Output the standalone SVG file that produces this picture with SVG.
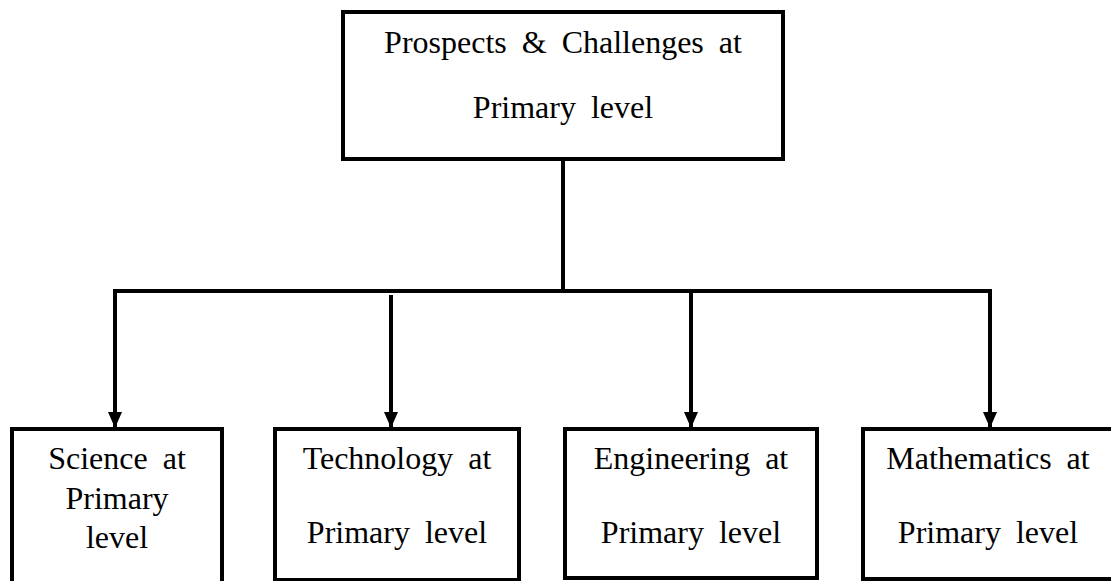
<svg xmlns="http://www.w3.org/2000/svg" width="1111" height="581" viewBox="0 0 1111 581">
<style>
.box{fill:#fff;stroke:#000;stroke-width:4}
.t{font-family:"Liberation Serif","Times New Roman",serif;font-size:32px;fill:#000;text-anchor:middle;word-spacing:7px}
.ln{fill:none;stroke:#000;stroke-width:4}
</style>
<defs>
<marker id="ah" markerUnits="userSpaceOnUse" markerWidth="16" markerHeight="14" refX="16" refY="7" orient="auto">
<path d="M0,0 L16,7 L0,14 Z" fill="#000"/>
</marker>
</defs>
<rect width="1111" height="581" fill="#fff"/>
<g id="connectors">
<line class="ln" x1="563" y1="160" x2="563" y2="291"/>
<line class="ln" x1="113" y1="291" x2="992" y2="291"/>
<line class="ln" x1="115" y1="289" x2="115" y2="428" marker-end="url(#ah)"/>
<line class="ln" x1="391" y1="295" x2="391" y2="428" marker-end="url(#ah)"/>
<line class="ln" x1="691" y1="289" x2="691" y2="428" marker-end="url(#ah)"/>
<line class="ln" x1="990" y1="289" x2="990" y2="428" marker-end="url(#ah)"/>
</g>
<g id="top">
<rect class="box" x="343" y="12" width="440" height="147"/>
<text class="t" x="563" y="53">Prospects &amp; Challenges at</text>
<text class="t" x="563" y="118">Primary level</text>
</g>
<g id="science">
<rect class="box" x="12" y="429" width="210" height="160"/>
<text class="t" x="117" y="469">Science at</text>
<text class="t" x="117" y="509">Primary</text>
<text class="t" x="117" y="548">level</text>
</g>
<g id="technology">
<rect class="box" x="275" y="429" width="244" height="151" style="stroke-width:4"/>
<text class="t" x="397" y="469">Technology at</text>
<text class="t" x="397" y="543">Primary level</text>
</g>
<g id="engineering">
<rect class="box" x="565" y="429" width="252" height="149"/>
<text class="t" x="691" y="469">Engineering at</text>
<text class="t" x="691" y="543">Primary level</text>
</g>
<g id="mathematics">
<rect class="box" x="863" y="429" width="252" height="150"/>
<text class="t" x="988" y="469">Mathematics at</text>
<text class="t" x="988" y="543">Primary level</text>
</g>
</svg>
